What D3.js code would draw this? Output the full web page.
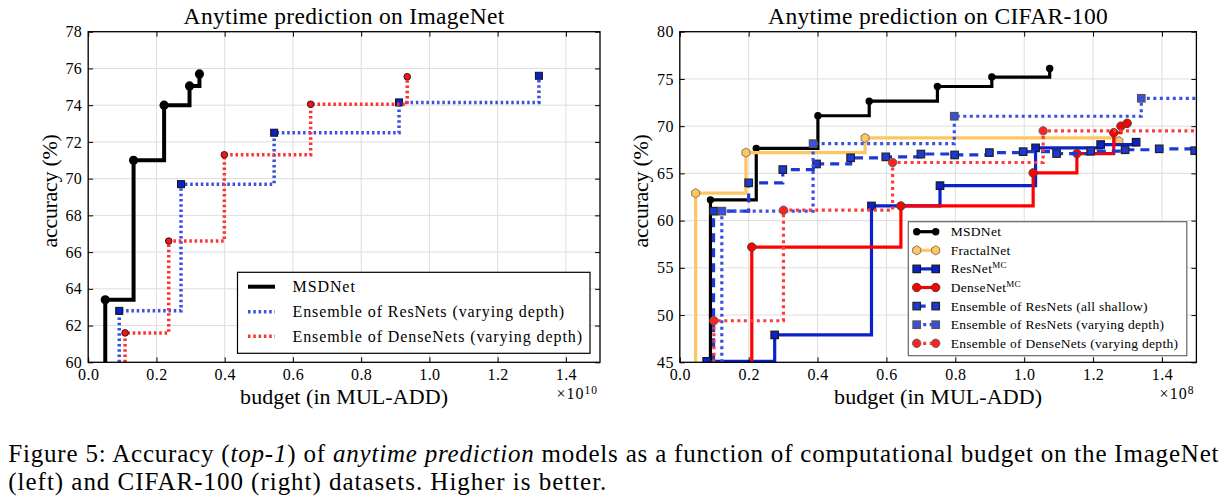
<!DOCTYPE html>
<html><head><meta charset="utf-8">
<script src="https://cdn.jsdelivr.net/npm/d3@7"></script>
<style>
body{margin:0;background:#fff;}
svg{display:block;}
svg text{font-family:"Liberation Serif",serif;}
</style></head><body>
<svg id="c" width="1226" height="498"></svg>
<script>
// ================= DATA =================
// ImageNet (budget in units of 1e10 MUL-ADD)
const inXTicks = [0.0, 0.2, 0.4, 0.6, 0.8, 1.0, 1.2, 1.4];
const inYTicks = [60, 62, 64, 66, 68, 70, 72, 74, 76, 78];
const inMsdX = [0.050, 0.133, 0.2225, 0.297, 0.326];
const inMsdY = [63.4, 71.0, 74.0, 75.05, 75.7];
const inResEnsX = [0.091, 0.272, 0.545, 0.911, 1.321];
const inResEnsY = [62.8, 69.7, 72.5, 74.15, 75.6];
const inDenseEnsX = [0.108, 0.236, 0.399, 0.652, 0.935];
const inDenseEnsY = [61.6, 66.6, 71.3, 74.05, 75.55];
const inLabels = ["MSDNet", "Ensemble of ResNets (varying depth)", "Ensemble of DenseNets (varying depth)"];

// CIFAR-100 (budget in units of 1e8 MUL-ADD)
const cfXTicks = [0.0, 0.2, 0.4, 0.6, 0.8, 1.0, 1.2, 1.4];
const cfYTicks = [45, 50, 55, 60, 65, 70, 75, 80];
const cfMsdX = [0.089, 0.222, 0.401, 0.550, 0.748, 0.906, 1.074];
const cfMsdY = [62.2, 67.65, 71.1, 72.65, 74.2, 75.2, 76.1];
const cfFractalX = [0.046, 0.192, 0.538, 1.275];
const cfFractalY = [62.9, 67.2, 68.75, 68.4];
const cfResMcX = [0.078, 0.2755, 0.5566, 0.7555, 1.033, 1.222, 1.325];
const cfResMcY = [45.1, 47.9, 61.55, 63.7, 67.7, 68.05, 68.3];
const cfDenseMcX = [0.209, 0.642, 1.026, 1.153, 1.26, 1.281, 1.299];
const cfDenseMcY = [57.2, 61.55, 65.05, 67.1, 69.3, 70.0, 70.3];
const cfResShallowX = [0.098, 0.200, 0.299, 0.397, 0.496, 0.598, 0.700, 0.798, 0.899, 0.997, 1.094, 1.193, 1.293, 1.392, 1.495];
const cfResShallowY = [61.0, 64.0, 65.4, 66.0, 66.65, 66.75, 67.05, 66.95, 67.2, 67.3, 67.1, 67.35, 67.5, 67.6, 67.4];
const cfResVarX = [0.122, 0.387, 0.797, 1.34];
const cfResVarY = [61.0, 68.15, 71.05, 72.95];
const cfDenseVarX = [0.099, 0.301, 0.618, 1.055];
const cfDenseVarY = [49.4, 61.1, 66.15, 69.5];
const cfLabels = [["MSDNet"], ["FractalNet"], ["ResNet", "MC"], ["DenseNet", "MC"],
  ["Ensemble of ResNets (all shallow)"], ["Ensemble of ResNets (varying depth)"], ["Ensemble of DenseNets (varying depth)"]];

const captionLine1 = [["Figure 5: Accuracy (", false], ["top-1", true], [") of ", false], ["anytime prediction", true],
  [" models as a function of computational budget on the ImageNet", false]];
const captionLine2 = "(left) and CIFAR-100 (right) datasets. Higher is better.";

// ================= DRAWING =================
const svg = d3.select("#c");
const defs = svg.append("defs");

function fitWidth(sel, target) {
  const node = sel.node();
  const w = node.getComputedTextLength();
  const n = node.textContent.length;
  const ls = (target - w) / n;
  sel.attr("letter-spacing", ls.toFixed(3));
  return ls;
}

function hexPath(r) {
  const pts = d3.range(6).map(k => {
    const a = (-90 + 60 * k) * Math.PI / 180;
    return [r * Math.cos(a), r * Math.sin(a)];
  });
  return "M" + pts.map(p => p.join(",")).join("L") + "Z";
}

function drawMarkers(sel, pts, m) {
  let s;
  if (m.shape === "circle") {
    s = sel.selectAll(null).data(pts).join("circle")
      .attr("cx", d => d[0]).attr("cy", d => d[1]).attr("r", m.size);
  } else if (m.shape === "square") {
    s = sel.selectAll(null).data(pts).join("rect")
      .attr("x", d => d[0] - m.size / 2).attr("y", d => d[1] - m.size / 2)
      .attr("width", m.size).attr("height", m.size);
  } else {
    s = sel.selectAll(null).data(pts).join("path")
      .attr("d", hexPath(m.size)).attr("transform", d => `translate(${d[0]},${d[1]})`);
  }
  s.attr("fill", m.fill).attr("stroke", m.edge || "none").attr("stroke-width", m.edgeW || 0);
}

function styleLine(p, st) {
  p.attr("fill", "none").attr("stroke", st.color).attr("stroke-width", st.width)
    .attr("stroke-linejoin", "miter").attr("stroke-linecap", "butt");
  if (st.dash) p.attr("stroke-dasharray", st.dash);
  return p;
}

function panel(o) {
  const g = svg.append("g");
  const x = d3.scaleLinear().domain(o.xDomain).range(o.xRange);
  const y = d3.scaleLinear().domain(o.yDomain).range(o.yRange);
  const [x0, x1] = o.xRange, [yb, yt] = o.yRange;
  const grid = g.append("g").attr("stroke", "#dedede").attr("stroke-width", 1);
  grid.selectAll(null).data(o.xTicks).join("line")
    .attr("x1", d => x(d)).attr("x2", d => x(d)).attr("y1", yt).attr("y2", yb);
  grid.selectAll(null).data(o.yTicks).join("line")
    .attr("y1", d => y(d)).attr("y2", d => y(d)).attr("x1", x0).attr("x2", x1);
  defs.append("clipPath").attr("id", "clip" + o.id).append("rect")
    .attr("x", x0).attr("y", yt).attr("width", x1 - x0).attr("height", yb - yt);
  const plot = g.append("g").attr("clip-path", `url(#clip${o.id})`);
  return { g, x, y, plot, o };
}

function series(p, xs, ys, st, m, extend) {
  const { x, y, plot } = p;
  const pts = xs.map((v, i) => [v, ys[i]]);
  const path = [[xs[0], y.domain()[0]], ...pts];
  if (extend) path.push([x.domain()[1], ys[ys.length - 1]]);
  const line = d3.line().x(d => x(d[0])).y(d => y(d[1])).curve(d3.curveStepAfter);
  styleLine(plot.append("path").attr("d", line(path)), st);
  drawMarkers(plot.append("g"), pts.map(d => [x(d[0]), y(d[1])]), m);
}

function axes(p) {
  const { g, x, y, o } = p;
  const [x0, x1] = o.xRange, [yb, yt] = o.yRange;
  const ax = [];
  ax.push(g.append("g").attr("transform", `translate(0,${yb})`)
    .call(d3.axisBottom(x).tickValues(o.xTicks).tickFormat(d3.format(".1f")).tickSizeInner(-5).tickSizeOuter(0).tickPadding(6)));
  ax.push(g.append("g").attr("transform", `translate(0,${yt})`)
    .call(d3.axisTop(x).tickValues(o.xTicks).tickFormat("").tickSizeInner(-5).tickSizeOuter(0)));
  ax.push(g.append("g").attr("transform", `translate(${x0},0)`)
    .call(d3.axisLeft(y).tickValues(o.yTicks).tickFormat(d3.format("d")).tickSizeInner(-5).tickSizeOuter(0).tickPadding(6)));
  ax.push(g.append("g").attr("transform", `translate(${x1},0)`)
    .call(d3.axisRight(y).tickValues(o.yTicks).tickFormat("").tickSizeInner(-5).tickSizeOuter(0)));
  ax.forEach(a => {
    a.attr("font-size", 16);
    a.select(".domain").remove();
    a.selectAll(".tick line").attr("stroke", "#000").attr("stroke-width", 1);
    a.selectAll(".tick text").attr("fill", "#000").attr("letter-spacing", 0.4);
  });
  g.append("rect").attr("x", x0).attr("y", yt).attr("width", x1 - x0).attr("height", yb - yt)
    .attr("fill", "none").attr("stroke", "#000").attr("stroke-width", 1.3);

  const cx = (x0 + x1) / 2;
  const t = g.append("text").attr("x", cx).attr("y", 24).attr("text-anchor", "middle")
    .attr("font-size", 23.5).attr("fill", "#000").text(o.title);
  fitWidth(t, o.titleW);
  const xl = g.append("text").attr("x", cx).attr("y", 404).attr("text-anchor", "middle")
    .attr("font-size", 22).attr("fill", "#000").text("budget (in MUL-ADD)");
  fitWidth(xl, 208);
  const yl = g.append("text").attr("transform", `translate(${x0 - 31.7},191) rotate(-90)`)
    .attr("text-anchor", "middle").attr("font-size", 22).attr("fill", "#000").text("accuracy (%)");
  fitWidth(yl, 113);
  const ex = g.append("text").attr("x", x1 - 2).attr("y", 399).attr("text-anchor", "end")
    .attr("font-size", 16).attr("fill", "#000").attr("letter-spacing", 1);
  ex.append("tspan").text("\u00d710");
  ex.append("tspan").attr("font-size", 11.5).attr("dy", -5.5).text(o.expo);
}

// ---------- Left: ImageNet ----------
const L = panel({ id: "L", xDomain: [0, 1.5], xRange: [88.2, 600], yDomain: [60, 78], yRange: [362.3, 31.7],
  xTicks: inXTicks, yTicks: inYTicks, title: "Anytime prediction on ImageNet", titleW: 321, expo: "10" });

const inStyles = [
  { color: "#000", width: 4 },
  { color: "#3b4fe0", width: 3.5, dash: "2.5,2.8" },
  { color: "#ff3030", width: 3.5, dash: "2.5,2.8" }
];
const inMarkers = [
  { shape: "circle", size: 4.6, fill: "#000" },
  { shape: "square", size: 7, fill: "#0a22c8", edge: "#111", edgeW: 1 },
  { shape: "circle", size: 3.3, fill: "#ff1010", edge: "#222", edgeW: 1 }
];
series(L, inMsdX, inMsdY, inStyles[0], inMarkers[0], false);
series(L, inResEnsX, inResEnsY, inStyles[1], inMarkers[1], false);
series(L, inDenseEnsX, inDenseEnsY, inStyles[2], inMarkers[2], false);
axes(L);

// left legend
{
  const lg = svg.append("g");
  lg.append("rect").attr("x", 237.5).attr("y", 272.3).attr("width", 352.5).attr("height", 81)
    .attr("fill", "#fff").attr("stroke", "#000").attr("stroke-width", 1.2);
  const rowY = [286.7, 311.7, 336.3];
  const texts = inLabels.map((lab, i) => {
    styleLine(lg.append("line").attr("x1", 248).attr("x2", 275).attr("y1", rowY[i]).attr("y2", rowY[i]), inStyles[i]);
    return lg.append("text").attr("x", 292.5).attr("y", rowY[i]).attr("dy", "0.34em")
      .attr("font-size", 16).attr("fill", "#000").text(lab);
  });
  const ls = fitWidth(texts[2], 290.4);
  texts.forEach(t => t.attr("letter-spacing", ls.toFixed(3)));
}

// ---------- Right: CIFAR-100 ----------
const R = panel({ id: "R", xDomain: [0, 1.5], xRange: [679.8, 1196.4], yDomain: [45, 80], yRange: [362.3, 31.7],
  xTicks: cfXTicks, yTicks: cfYTicks, title: "Anytime prediction on CIFAR-100", titleW: 340, expo: "8" });

const cfStyles = [
  { color: "#000", width: 3.2 },
  { color: "#fec660", width: 3.2 },
  { color: "#0a22cc", width: 3.2 },
  { color: "#ff0000", width: 3.2 },
  { color: "#1d38d4", width: 3.2, dash: "9,6" },
  { color: "#3a50e4", width: 3.2, dash: "3,3.5" },
  { color: "#ff3a3a", width: 3.2, dash: "3,3.5" }
];
const cfMarkers = [
  { shape: "circle", size: 3.7, fill: "#000" },
  { shape: "hex", size: 4.6, fill: "#fec660", edge: "#8c7a55", edgeW: 1 },
  { shape: "square", size: 7.5, fill: "#0a22cc", edge: "#1a1a1a", edgeW: 1.2 },
  { shape: "circle", size: 4.2, fill: "#ff0000", edge: "#444", edgeW: 1 },
  { shape: "square", size: 7.5, fill: "#1d38d4", edge: "#222", edgeW: 1.2 },
  { shape: "square", size: 7.5, fill: "#3a50e4", edge: "#555", edgeW: 1.2 },
  { shape: "circle", size: 4.2, fill: "#ff2020", edge: "#666", edgeW: 1 }
];
series(R, cfMsdX, cfMsdY, cfStyles[0], cfMarkers[0], false);
series(R, cfFractalX, cfFractalY, cfStyles[1], cfMarkers[1], false);
series(R, cfResMcX, cfResMcY, cfStyles[2], cfMarkers[2], false);
series(R, cfDenseMcX, cfDenseMcY, cfStyles[3], cfMarkers[3], false);
series(R, cfResShallowX, cfResShallowY, cfStyles[4], cfMarkers[4], true);
series(R, cfResVarX, cfResVarY, cfStyles[5], cfMarkers[5], true);
series(R, cfDenseVarX, cfDenseVarY, cfStyles[6], cfMarkers[6], true);
axes(R);

// right legend
{
  const lg = svg.append("g");
  lg.append("rect").attr("x", 908.3).attr("y", 221.7).attr("width", 278.5).attr("height", 134)
    .attr("fill", "#fff").attr("stroke", "#666").attr("stroke-width", 1.2);
  const texts = cfLabels.map((lab, i) => {
    const yy = 231.7 + 18.6 * i;
    styleLine(lg.append("line").attr("x1", 916.7).attr("x2", 935.7).attr("y1", yy).attr("y2", yy), cfStyles[i]);
    drawMarkers(lg.append("g"), [[916.7, yy], [935.7, yy]], cfMarkers[i]);
    const t = lg.append("text").attr("x", 950.7).attr("y", yy).attr("dy", "0.34em")
      .attr("font-size", 13.5).attr("fill", "#000");
    t.append("tspan").text(lab[0]);
    if (lab[1]) t.append("tspan").attr("font-size", 9).attr("dy", -5).text(lab[1]);
    return t;
  });
  const ls = fitWidth(texts[6], 227.6);
  texts.forEach(t => t.attr("letter-spacing", ls.toFixed(3)));
}

// ---------- Caption ----------
{
  const c1 = svg.append("text").attr("x", 8.3).attr("y", 461.7).attr("font-size", 25).attr("fill", "#000");
  captionLine1.forEach(([s, it]) => {
    const ts = c1.append("tspan").text(s);
    if (it) ts.attr("font-style", "italic");
  });
  fitWidth(c1, 1211);
  const c2 = svg.append("text").attr("x", 8.3).attr("y", 490).attr("font-size", 25).attr("fill", "#000").text(captionLine2);
  fitWidth(c2, 599);
}
</script>
</body></html>
